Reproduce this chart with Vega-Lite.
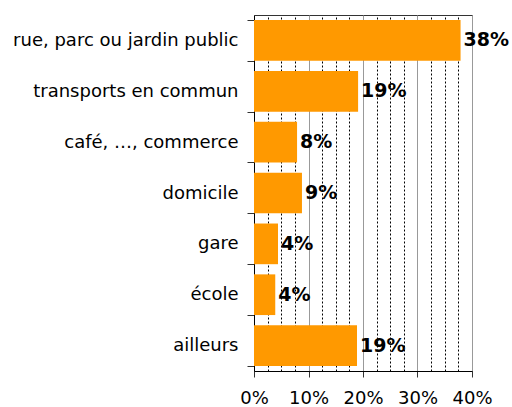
{
  "$schema": "https://vega.github.io/schema/vega-lite/v6.json",
  "width": 218,
  "height": 356,
  "autosize": "none",
  "padding": {"left": 254, "top": 15, "right": 40, "bottom": 36},
  "background": "white",
  "config": {
    "font": "DejaVu Sans",
    "view": {"stroke": "#333333", "strokeWidth": 1}
  },
  "data": {
    "values": [
      {"lieu": "rue, parc ou jardin public", "pct": 0.379},
      {"lieu": "transports en commun", "pct": 0.191},
      {"lieu": "café, …, commerce", "pct": 0.079},
      {"lieu": "domicile", "pct": 0.088},
      {"lieu": "gare", "pct": 0.044},
      {"lieu": "école", "pct": 0.039},
      {"lieu": "ailleurs", "pct": 0.189}
    ]
  },
  "encoding": {
    "y": {
      "field": "lieu",
      "type": "nominal",
      "sort": null,
      "title": null,
      "scale": {"paddingInner": 0.2, "paddingOuter": 0.1},
      "axis": {
        "tickBand": "extent",
        "tickSize": 7,
        "tickColor": "#333333",
        "domainColor": "#000000",
        "labelFontSize": 18,
        "labelLimit": 300,
        "labelColor": "#000000",
        "labelPadding": 9,
        "labelFont": "DejaVu Sans"
      }
    },
    "x": {
      "field": "pct",
      "type": "quantitative",
      "title": null,
      "scale": {"domain": [0, 0.4], "nice": false},
      "axis": {
        "values": [0, 0.025, 0.05, 0.075, 0.1, 0.125, 0.15, 0.175, 0.2, 0.225, 0.25, 0.275, 0.3, 0.325, 0.35, 0.375, 0.4],
        "format": ".0%",
        "labelExpr": "abs(datum.value * 10 - round(datum.value * 10)) < 0.000001 ? datum.label : ''",
        "labelFontSize": 18,
        "labelColor": "#000000",
        "labelPadding": 12,
        "labelFlush": false,
        "labelOverlap": false,
        "domainColor": "#000000",
        "tickColor": "#333333",
        "tickSize": 6,
        "tickOpacity": {"condition": {"test": "abs(datum.value * 10 - round(datum.value * 10)) < 0.000001", "value": 1}, "value": 0},
        "grid": true,
        "gridColor": {"condition": {"test": "abs(datum.value * 10 - round(datum.value * 10)) < 0.000001", "value": "#999999"}, "value": "#000000"},
        "gridDash": {"condition": {"test": "abs(datum.value * 10 - round(datum.value * 10)) < 0.000001", "value": []}, "value": [2, 2]},
        "gridWidth": 1,
        "gridOpacity": 1
      }
    }
  },
  "layer": [
    {
      "mark": {"type": "bar", "color": "#FF9900"}
    },
    {
      "mark": {
        "type": "text",
        "align": "left",
        "baseline": "middle",
        "dx": 3,
        "fontWeight": "bold",
        "fontSize": 19,
        "color": "#000000"
      },
      "encoding": {
        "text": {"field": "pct", "type": "quantitative", "format": ".0%"}
      }
    }
  ]
}
